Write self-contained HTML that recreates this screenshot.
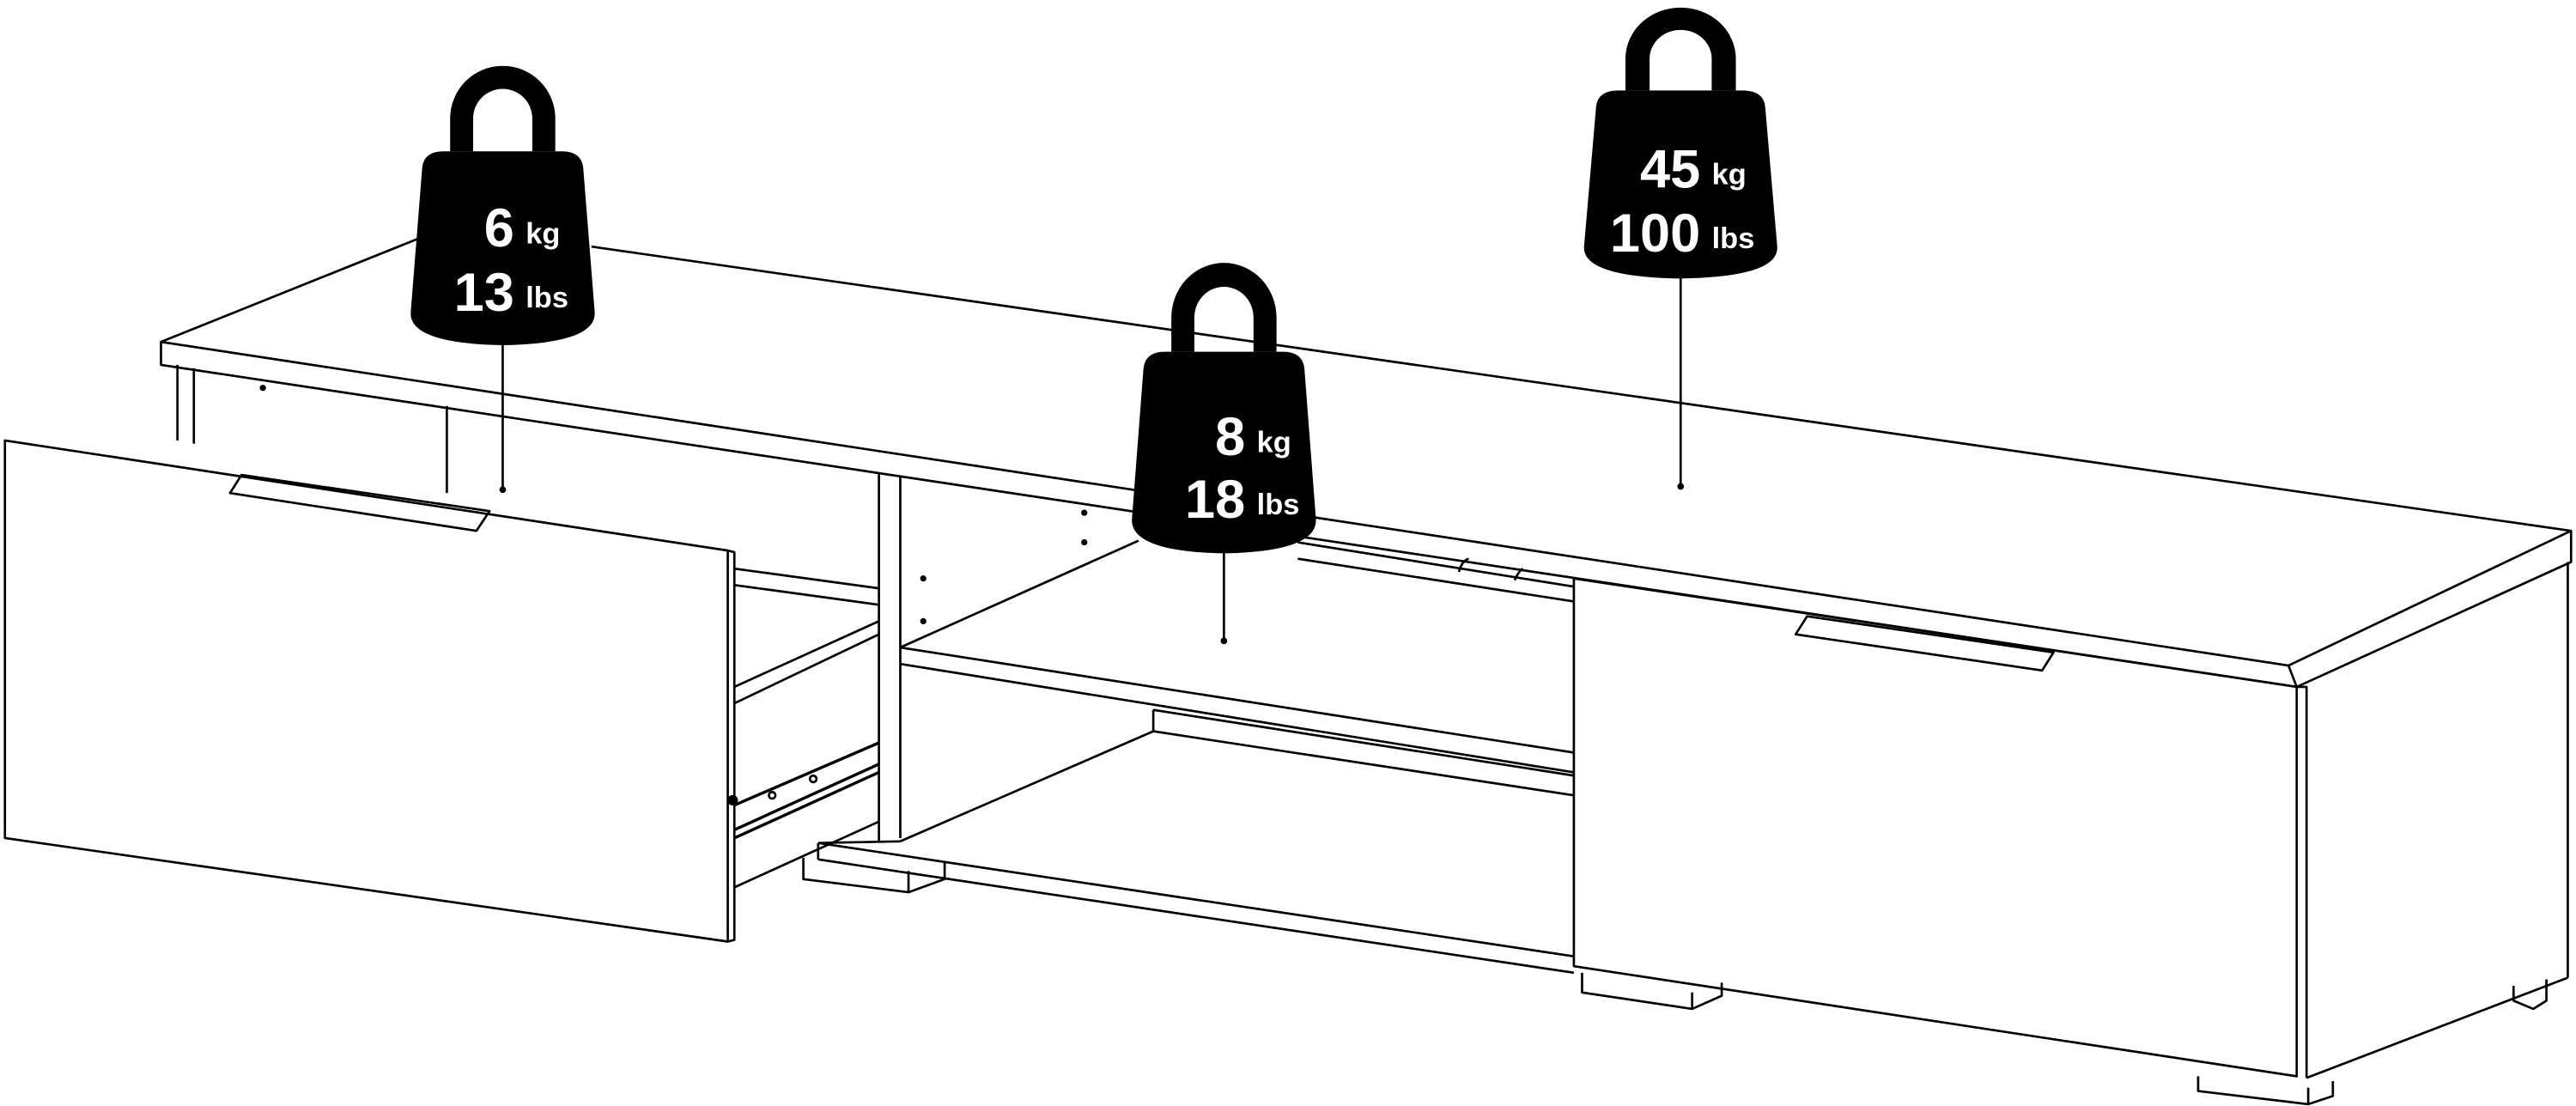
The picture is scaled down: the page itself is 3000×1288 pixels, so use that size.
<!DOCTYPE html>
<html><head><meta charset="utf-8"><style>
html,body{margin:0;padding:0;background:#fff;}
svg{display:block;}
text{font-family:"Liberation Sans",sans-serif;font-weight:bold;fill:#fff;}
</style></head><body>
<svg width="3000" height="1288" viewBox="0 0 1568 673" xmlns="http://www.w3.org/2000/svg">
<defs>
<g id="wt">
<path d="M -32,0 L -32,-20 A 32 32 0 0 1 32,-20 L 32,0 L 18,0 L 18,-20 A 18 18 0 0 0 -18,-20 L -18,0 Z" fill="#000"/>
<path d="M -49,10 Q -48,0 -36,0 L 36,0 Q 48,0 49,10 L 56,98 Q 57,117 0,118 Q -57,117 -56,98 Z" fill="#000"/>
</g>
</defs>
<g fill="none" stroke="#000" stroke-width="1.4" stroke-linejoin="round">
<!-- top panel -->
<path d="M98,208 L1393,405 L1565,323 L1565,342 L1398,418 L98,222 Z" fill="#fff"/>
<line x1="1393" y1="405" x2="1398" y2="418"/>
<line x1="98" y1="208" x2="255" y2="145"/>
<line x1="360" y1="150" x2="1565" y2="323"/>
<!-- left side panel -->
<line x1="108" y1="222" x2="108" y2="268"/>
<line x1="118" y1="224" x2="118" y2="270"/>
<line x1="272" y1="247" x2="272" y2="300"/>
<circle cx="160" cy="236" r="1.2" fill="#000"/>
<!-- middle divider -->
<line x1="535" y1="288" x2="535" y2="512"/>
<line x1="548" y1="290" x2="548" y2="510"/>
<circle cx="562" cy="352" r="1.2" fill="#000"/>
<circle cx="562" cy="378" r="1.2" fill="#000"/>
<circle cx="660" cy="312" r="1.2" fill="#000"/>
<circle cx="660" cy="330" r="1.2" fill="#000"/>
<!-- back inner line -->
<line x1="790" y1="330" x2="958" y2="357"/>
<path d="M888,348 Q890,341 894,340 M922,353 Q924,348 927,346"/>
<!-- shelf -->
<path d="M548,394 L958,458 M548,404 L958,470 M548,394 L693,329"/>
<line x1="790" y1="340" x2="958" y2="366"/>
<line x1="702" y1="432" x2="702" y2="445"/>
<line x1="702" y1="432" x2="958" y2="472"/>
<line x1="548" y1="512" x2="702" y2="445"/>
<line x1="702" y1="445" x2="958" y2="484"/>
<!-- bottom plinth -->
<path d="M498,513 L548,512 M498,513 L958,582 M498,523 L958,592 M498,513 L498,523"/>
<!-- middle foot -->
<path d="M489,522 L489,535 L553,543 L575,535 L575,524 M553,543 L553,530"/>
<!-- left drawer box -->
<path d="M447,346 L535,358 M447,356 L535,368"/>
<path d="M447,418 L535,378 M447,428 L535,386"/>
<path d="M447,490 L535,452 M447,505 L535,465 M447,510 L535,470" stroke-width="1.8"/>
<path d="M447,540 L535,500"/>
<circle cx="446" cy="487" r="2.5" fill="#000"/>
<circle cx="470" cy="484" r="2"/>
<circle cx="495" cy="474" r="2"/>
<!-- left drawer front -->
<path d="M3,268 L443,335 L443,573 L3,510 Z" fill="#fff"/>
<path d="M443,335 L447,336 L447,572 L443,573"/>
<path d="M147,289 L298,311 L290,323 L140,300 Z"/>
<!-- right drawer front -->
<path d="M958,352 L1398,418 L1398,655 L958,588 Z" fill="#fff"/>
<path d="M1100,375 L1250,397 L1243,408 L1093,386 Z"/>
<!-- right side -->
<path d="M1398,418 L1404,418 L1404,656 M1563,342 L1563,595 M1404,656 L1563,595"/>
<!-- right feet -->
<path d="M963,592 L963,604 L1030,614 L1048,606 L1048,598 M1030,614 L1030,604"/>
<path d="M1338,655 L1338,664 L1405,672 L1420,667 L1420,658 M1405,672 L1405,662"/>
<path d="M1530,600 L1530,609 L1542,614 L1550,609 L1550,596"/>
<!-- leaders -->
<line x1="306" y1="209" x2="306" y2="298"/>
<line x1="745" y1="336" x2="745" y2="390"/>
<line x1="1023" y1="168" x2="1023" y2="296"/>
</g>
<circle cx="306" cy="298" r="2" fill="#000"/>
<circle cx="745" cy="390" r="2" fill="#000"/>
<circle cx="1023" cy="296" r="2" fill="#000"/>
<!-- weights -->
<use href="#wt" transform="translate(306,92)"/>
<use href="#wt" transform="translate(745,214) scale(1.0,1.04)"/>
<use href="#wt" transform="translate(1023,55) scale(1.05,0.97)"/>
<text x="313" y="150" font-size="33" text-anchor="end">6</text>
<text x="320" y="148" font-size="18">kg</text>
<text x="313" y="189" font-size="33" text-anchor="end">13</text>
<text x="320" y="187" font-size="18">lbs</text>
<text x="758" y="277" font-size="33" text-anchor="end">8</text>
<text x="765" y="275" font-size="18">kg</text>
<text x="758" y="315" font-size="33" text-anchor="end">18</text>
<text x="765" y="313" font-size="18">lbs</text>
<text x="1035" y="114" font-size="33" text-anchor="end">45</text>
<text x="1042" y="112" font-size="18">kg</text>
<text x="1035" y="153" font-size="33" text-anchor="end">100</text>
<text x="1042" y="151" font-size="18">lbs</text>
</svg>
</body></html>
